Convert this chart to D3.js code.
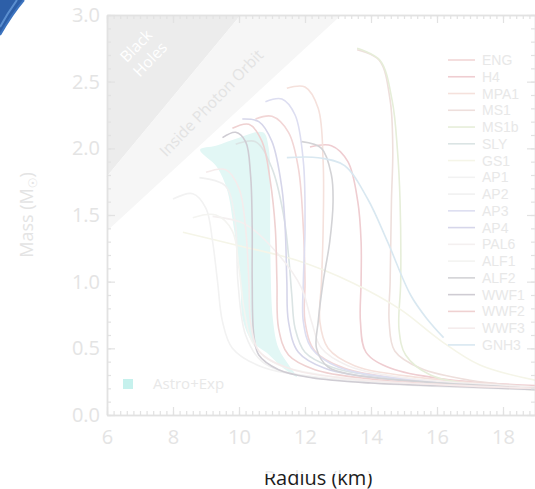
<!DOCTYPE html>
<html><head><meta charset="utf-8">
<script src="https://cdn.jsdelivr.net/npm/d3@7"></script>
<style>
html,body{margin:0;padding:0;background:#fff;}
svg{display:block;font-family:"Open Sans",sans-serif;}
</style></head>
<body>
<svg id="chart" width="535" height="489"></svg>
<script>
// ---------- data ----------
const eosNames = ["ENG","H4","MPA1","MS1","MS1b","SLY","GS1","AP1","AP2","AP3","AP4","PAL6","ALF1","ALF2","WWF1","WWF2","WWF3","GNH3"];

const ENG_R  = [10.5, 11.0, 11.5, 11.8, 11.95, 12.0, 12.0, 12.3, 13.2, 15.0, 19.0];
const ENG_M  = [2.22, 2.24, 2.12, 1.85, 1.4, 1.0, 0.7, 0.48, 0.35, 0.27, 0.2];
const H4_R   = [12.15, 12.8, 13.3, 13.6, 13.7, 13.7, 13.68, 13.85, 14.6, 16.2, 19.0];
const H4_M   = [2.01, 2.02, 1.9, 1.6, 1.3, 1.0, 0.7, 0.47, 0.35, 0.27, 0.22];
const MPA1_R = [11.45, 12.0, 12.4, 12.55, 12.55, 12.5, 12.45, 12.7, 13.5, 15.5, 19.0];
const MPA1_M = [2.45, 2.46, 2.3, 1.9, 1.4, 1.0, 0.7, 0.5, 0.37, 0.28, 0.21];
const MS1_R  = [13.58, 14.25, 14.58, 14.66, 14.62, 14.58, 14.55, 14.72, 15.5, 17.0, 19.0];
const MS1_M  = [2.74, 2.66, 2.36, 1.99, 1.61, 1.0, 0.7, 0.48, 0.35, 0.26, 0.21];
const MS1b_R = [13.58, 14.27, 14.64, 14.8, 14.88, 14.9, 14.85, 15.05, 15.8, 17.3, 19.0];
const MS1b_M = [2.75, 2.66, 2.36, 1.99, 1.61, 1.0, 0.64, 0.45, 0.3, 0.22, 0.19];
const SLY_R  = [9.9, 10.5, 11.0, 11.35, 11.5, 11.6, 11.7, 12.0, 12.8, 14.5, 19.0];
const SLY_M  = [2.03, 2.05, 1.85, 1.5, 1.2, 0.9, 0.65, 0.47, 0.36, 0.28, 0.2];
const GS1_R  = [8.3, 10.0, 11.75, 13.45, 14.9, 16.1, 17.3, 19.0];
const GS1_M  = [1.37, 1.27, 1.16, 0.99, 0.79, 0.56, 0.375, 0.26];
const AP1_R  = [8.0, 8.6, 9.0, 9.2, 9.35, 9.5, 9.8, 10.6, 12.5, 19.0];
const AP1_M  = [1.62, 1.66, 1.55, 1.3, 1.0, 0.7, 0.5, 0.37, 0.28, 0.2];
const AP2_R  = [8.8, 9.58, 9.88, 9.97, 10.2, 10.7, 11.8, 14.0, 19.0];
const AP2_M  = [1.78, 1.72, 1.46, 0.99, 0.6, 0.4, 0.3, 0.24, 0.19];
const AP3_R  = [10.8, 11.3, 11.7, 11.95, 12.0, 11.95, 11.95, 12.2, 13.0, 15.0, 19.0];
const AP3_M  = [2.35, 2.37, 2.25, 1.9, 1.4, 1.0, 0.7, 0.5, 0.36, 0.27, 0.2];
const AP4_R  = [10.1, 10.6, 11.0, 11.3, 11.4, 11.45, 11.5, 11.8, 12.6, 14.5, 19.0];
const AP4_M  = [2.22, 2.2, 2.05, 1.7, 1.4, 1.0, 0.7, 0.47, 0.35, 0.27, 0.2];
const PAL6_R = [9.2, 10.2, 11.24, 11.9, 12.2, 12.5, 13.3, 15.0, 19.0];
const PAL6_M = [1.49, 1.43, 1.19, 0.95, 0.7, 0.5, 0.37, 0.28, 0.21];
const ALF1_R = [8.6, 9.3, 9.8, 10.0, 10.15, 10.4, 11.0, 12.5, 19.0];
const ALF1_M = [1.48, 1.5, 1.38, 1.1, 0.8, 0.55, 0.4, 0.3, 0.2];
const ALF2_R = [11.9, 12.5, 12.8, 12.85, 12.75, 12.55, 12.4, 12.35, 12.7, 13.5, 15.5, 19.0];
const ALF2_M = [2.05, 2.0, 1.8, 1.6, 1.3, 1.0, 0.7, 0.5, 0.36, 0.3, 0.25, 0.2];
const WWF1_R = [9.5, 9.9, 10.2, 10.35, 10.4, 10.4, 10.45, 10.6, 11.2, 12.2, 14.0, 16.0, 19.0];
const WWF1_M = [2.08, 2.12, 2.05, 1.8, 1.4, 1.0, 0.6, 0.45, 0.34, 0.28, 0.24, 0.22, 0.19];
const WWF2_R = [9.8, 10.3, 10.7, 10.95, 11.1, 11.15, 11.2, 11.5, 12.3, 14.0, 16.0, 19.0];
const WWF2_M = [2.15, 2.18, 2.05, 1.75, 1.4, 1.0, 0.65, 0.45, 0.34, 0.27, 0.23, 0.2];
const WWF3_R = [9.0, 9.6, 10.0, 10.2, 10.3, 10.35, 10.6, 11.4, 13.0, 19.0];
const WWF3_M = [1.82, 1.84, 1.7, 1.4, 1.0, 0.7, 0.48, 0.36, 0.28, 0.2];
const GNH3_R = [11.45, 12.4, 13.2, 13.9, 14.5, 15.2, 15.7, 16.2];
const GNH3_M = [1.93, 1.93, 1.87, 1.62, 1.3, 0.9, 0.72, 0.58];

// Astro+Exp constraint band (outline)
const bandR = [8.82, 9.33, 9.64, 9.82, 10.03, 10.12, 10.4, 10.85, 11.3, 11.76, 11.55, 11.2, 11.03, 10.95, 10.94, 10.9, 10.73, 10.0, 9.3];
const bandM = [1.99, 1.86, 1.69, 1.44, 1.065, 0.71, 0.55, 0.465, 0.36, 0.285, 0.36, 0.5, 0.71, 1.215, 1.71, 2.0, 2.12, 2.08, 2.02];

// shaded regions (R, M)
const blackHoleR = [6, 10.05, 6];
const blackHoleM = [1.79, 3.0, 3.0];
const photonR = [6, 13.1, 10.05, 6];
const photonM = [1.38, 3.0, 3.0, 1.79];

const xTicks = [6, 8, 10, 12, 14, 16, 18];
const yTicks = [0.0, 0.5, 1.0, 1.5, 2.0, 2.5, 3.0];

// ---------- build table ----------
const eosR = {ENG:ENG_R,H4:H4_R,MPA1:MPA1_R,MS1:MS1_R,MS1b:MS1b_R,SLY:SLY_R,GS1:GS1_R,AP1:AP1_R,AP2:AP2_R,AP3:AP3_R,AP4:AP4_R,PAL6:PAL6_R,ALF1:ALF1_R,ALF2:ALF2_R,WWF1:WWF1_R,WWF2:WWF2_R,WWF3:WWF3_R,GNH3:GNH3_R};
const eosM = {ENG:ENG_M,H4:H4_M,MPA1:MPA1_M,MS1:MS1_M,MS1b:MS1b_M,SLY:SLY_M,GS1:GS1_M,AP1:AP1_M,AP2:AP2_M,AP3:AP3_M,AP4:AP4_M,PAL6:PAL6_M,ALF1:ALF1_M,ALF2:ALF2_M,WWF1:WWF1_M,WWF2:WWF2_M,WWF3:WWF3_M,GNH3:GNH3_M};
const zip = (a, b) => a.map((v, i) => [v, b[i]]);
const series = eosNames.map(n => ({name: n, pts: zip(eosR[n], eosM[n])}));

// ---------- styles ----------
const colors = {ENG:"#f2d6d6",H4:"#efcdd1",MPA1:"#f5e1dc",MS1:"#eedfdc",MS1b:"#e6eed9",SLY:"#dbe4e4",GS1:"#f5f5e8",AP1:"#f2f2f2",AP2:"#f1f1f1",AP3:"#dddef1",AP4:"#d6d6ea",PAL6:"#f4f0f0",ALF1:"#f4f4f1",ALF2:"#d3d3d6",WWF1:"#cfccd3",WWF2:"#efd1d1",WWF3:"#f5ecec",GNH3:"#d9e8f1"};
const axisCol = "#e2e2e2", labelCol = "#e4e4e4";

const svg = d3.select("#chart");
const x = d3.scaleLinear().domain([6, 19]).range([107, 536]);
const y = d3.scaleLinear().domain([0, 3]).range([415, 15]);

// "Radius (km)" label sits partly under the page's fade
svg.append("text").attr("x", 318).attr("y", 485).attr("text-anchor", "middle")
  .attr("font-size", 20).attr("fill", "#1c1c1c").text("Radius (km)");
svg.append("rect").attr("x", 240).attr("y", 430).attr("width", 160).attr("height", 44)
  .attr("fill", "#fff").attr("opacity", 0.9);

const plot = svg.append("g");
plot.append("clipPath").attr("id", "clip").append("rect")
  .attr("x", x(6)).attr("y", y(3)).attr("width", x(19) - x(6)).attr("height", y(0) - y(3));

const poly = d3.line().x(d => x(d[0])).y(d => y(d[1]));
plot.append("path").datum(zip(blackHoleR, blackHoleM)).attr("d", d => poly(d) + "Z").attr("fill", "#ececec");
plot.append("path").datum(zip(photonR, photonM)).attr("d", d => poly(d) + "Z").attr("fill", "#f6f6f6");

plot.append("text").attr("transform", `translate(${x(7.0)},${y(2.74)}) rotate(-46)`)
  .attr("text-anchor", "middle").attr("font-size", 15.5).attr("fill", "#ffffff")
  .selectAll("tspan").data(["Black", "Holes"]).join("tspan")
  .attr("x", 0).attr("dy", (d, i) => i ? "1.25em" : 0).text(d => d);
plot.append("text").attr("transform", `translate(${x(9.16)},${y(2.34)}) rotate(-46)`)
  .attr("text-anchor", "middle").attr("dy", "0.35em").attr("font-size", 15.5).attr("fill", "#e3e3e3")
  .text("Inside Photon Orbit");

// band
plot.append("path").datum(zip(bandR, bandM))
  .attr("d", d3.line().x(d => x(d[0])).y(d => y(d[1])).curve(d3.curveCatmullRomClosed.alpha(0.5)))
  .attr("fill", "#e2f7f5");

// EOS curves
const line = d3.line().x(d => x(d[0])).y(d => y(d[1])).curve(d3.curveCatmullRom.alpha(0.5));
plot.append("g").attr("clip-path", "url(#clip)")
  .selectAll("path").data(series).join("path")
  .attr("d", d => line(d.pts)).attr("fill", "none")
  .attr("stroke", d => colors[d.name]).attr("stroke-width", 1.6);

// axes
function styleAxis(g) {
  g.selectAll("path.domain").attr("stroke", axisCol).attr("stroke-width", 1.5);
  g.selectAll(".tick line").attr("stroke", axisCol).attr("stroke-width", 1.2);
  g.selectAll("text").attr("fill", labelCol).attr("font-size", 20).attr("font-family", "Open Sans, sans-serif");
}
const minorX = d3.range(6, 19.01, 0.2);
const minorY = d3.range(0, 3.001, 0.1);
svg.append("g").attr("transform", `translate(0,${y(0)})`)
  .call(d3.axisBottom(x).tickValues(minorX).tickSize(-4).tickSizeOuter(0).tickFormat("")).call(styleAxis);
svg.append("g").attr("transform", `translate(0,${y(0)})`)
  .call(d3.axisBottom(x).tickValues(xTicks).tickSize(-8).tickSizeOuter(0).tickPadding(15).tickFormat(d3.format("d"))).call(styleAxis);
svg.append("g").attr("transform", `translate(0,${y(3)})`)
  .call(d3.axisTop(x).tickValues(minorX).tickSize(-4).tickSizeOuter(0).tickFormat("")).call(styleAxis);
svg.append("g").attr("transform", `translate(0,${y(3)})`)
  .call(d3.axisTop(x).tickValues(xTicks).tickSize(-8).tickSizeOuter(0).tickFormat("")).call(styleAxis);
svg.append("g").attr("transform", `translate(${x(6)},0)`)
  .call(d3.axisLeft(y).tickValues(minorY).tickSize(-4).tickSizeOuter(0).tickFormat("")).call(styleAxis);
svg.append("g").attr("transform", `translate(${x(6)},0)`)
  .call(d3.axisLeft(y).tickValues(yTicks).tickSize(-8).tickSizeOuter(0).tickPadding(7).tickFormat(d3.format(".1f"))).call(styleAxis);
svg.append("g").attr("transform", `translate(${x(19) - 1},0)`)
  .call(d3.axisRight(y).tickValues(minorY).tickSize(-4).tickSizeOuter(0).tickFormat("")).call(styleAxis);
svg.append("g").attr("transform", `translate(${x(19) - 1},0)`)
  .call(d3.axisRight(y).tickValues(yTicks).tickSize(-8).tickSizeOuter(0).tickFormat("")).call(styleAxis);

// y-axis title
const yt = svg.append("text").attr("transform", `translate(33,${(y(0) + y(3)) / 2}) rotate(-90)`)
  .attr("text-anchor", "middle").attr("font-size", 18).attr("fill", labelCol);
yt.append("tspan").text("Mass (M");
yt.append("tspan").attr("font-size", 12).attr("dy", 4).attr("font-family", "DejaVu Sans").text("\u2609");
yt.append("tspan").attr("dy", -4).text(")");

// legend
const leg = svg.append("g");
const rowH = 16.76, top0 = 60;
const rows = leg.selectAll("g").data(eosNames).join("g")
  .attr("transform", (d, i) => `translate(0,${top0 + i * rowH})`);
rows.append("line").attr("x1", 448).attr("x2", 475).attr("stroke", d => colors[d]).attr("stroke-width", 1.6);
rows.append("text").attr("x", 482).attr("dy", "0.36em").attr("font-size", 14)
  .attr("font-family", "Liberation Sans, Arial, sans-serif").attr("fill", "#e8e8e8").text(d => d);

svg.append("rect").attr("x", 123).attr("y", 379).attr("width", 10).attr("height", 10).attr("fill", "#c6f1ed");
svg.append("text").attr("x", 153).attr("y", 384).attr("dy", "0.36em").attr("font-size", 15).attr("fill", "#e8e8e8").text("Astro+Exp");

// decorative blue swoosh in the corner
const deco = svg.append("g");
deco.append("path").attr("d", "M0,0 L24,0 Q12,14 0,35 Z").attr("fill", "#2d5fa8");
deco.append("path").attr("d", "M17,0 Q7,14 0,27").attr("fill", "none").attr("stroke", "#5b8fd0").attr("stroke-width", 2);
deco.append("path").attr("d", "M24,0 Q12,14 0,35").attr("fill", "none").attr("stroke", "#3d74bf").attr("stroke-width", 2);
</script>
</body></html>
